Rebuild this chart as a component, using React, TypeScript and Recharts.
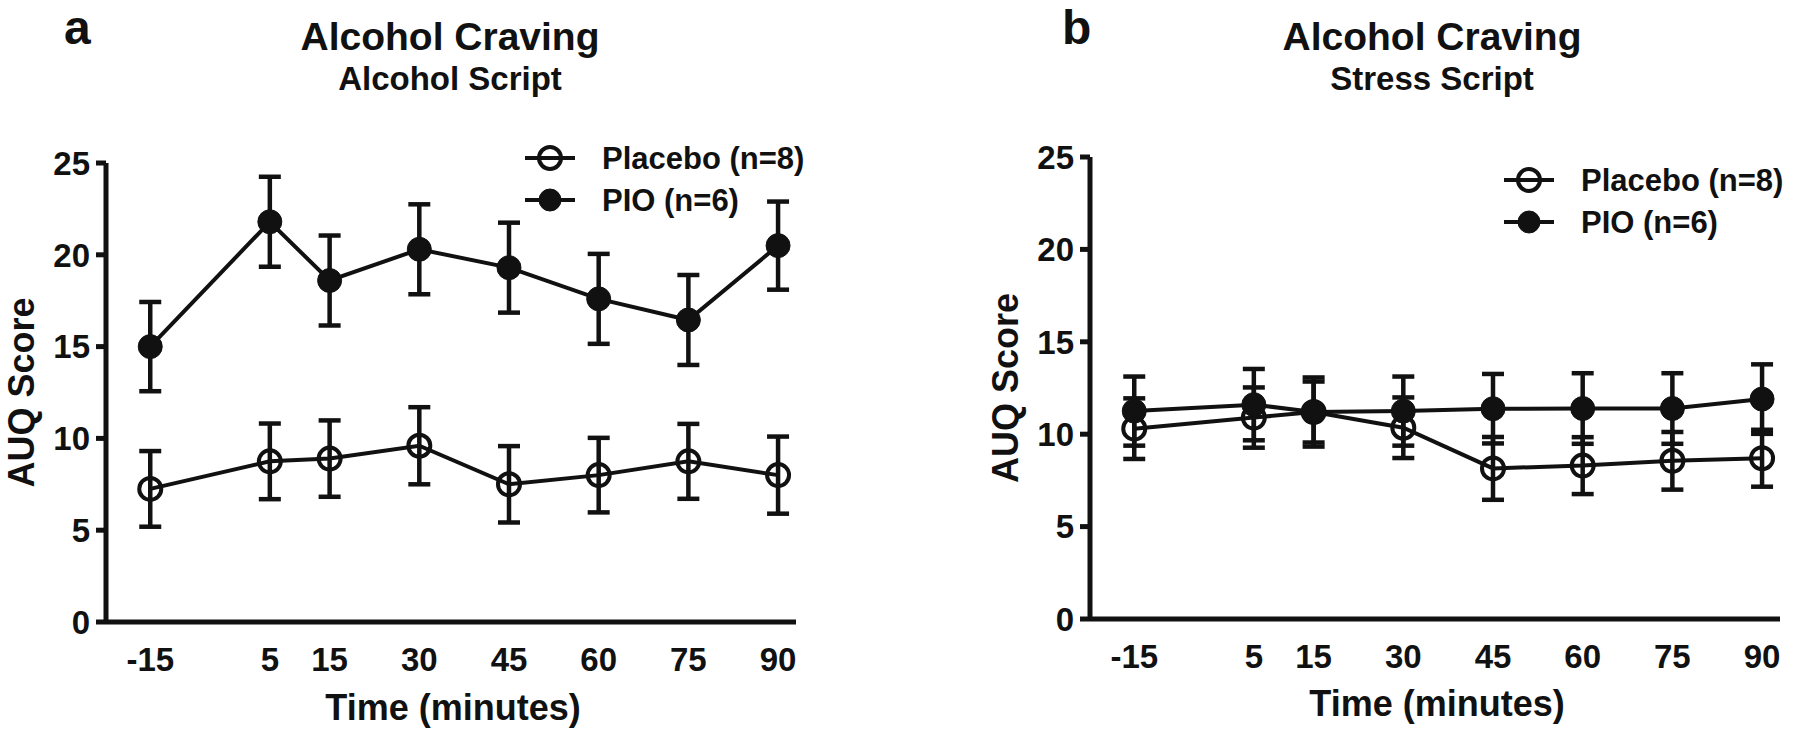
import React from "react";
import { ErrorBar, Label, Line, LineChart, XAxis, YAxis } from "recharts";

// time points (minutes) and axis ticks
const timePoints = [-15, 5, 15, 30, 45, 60, 75, 90];
const yTicks = [0, 5, 10, 15, 20, 25];
const seriesNames = ["Placebo (n=8)", "PIO (n=6)"];

// panel a – alcohol script
const alcPlacebo = [7.25, 8.75, 8.9, 9.6, 7.5, 8.0, 8.75, 8.0];
const alcPlaceboErr = [2.06, 2.06, 2.08, 2.1, 2.08, 2.03, 2.04, 2.1];
const alcPio = [15.0, 21.8, 18.6, 20.3, 19.3, 17.6, 16.45, 20.5];
const alcPioErr = [2.43, 2.45, 2.45, 2.45, 2.45, 2.45, 2.45, 2.4];

// panel b – stress script
const strPlacebo = [10.3, 10.9, 11.2, 10.35, 8.15, 8.3, 8.56, 8.7];
const strPlaceboErr = [1.64, 1.63, 1.65, 1.64, 1.7, 1.54, 1.56, 1.54];
const strPio = [11.25, 11.6, 11.2, 11.25, 11.38, 11.39, 11.39, 11.9];
const strPioErr = [1.87, 1.93, 1.87, 1.87, 1.88, 1.91, 1.91, 1.88];

const INK = "#111";
const FONT = "'Liberation Sans', Arial, Helvetica, sans-serif";

const buildRows = (placebo: number[], placeboErr: number[], pio: number[], pioErr: number[]) =>
  timePoints.map((t, i) => ({
    t,
    placebo: placebo[i],
    placeboErr: placeboErr[i],
    pio: pio[i],
    pioErr: pioErr[i],
  }));

type PanelProps = {
  rows: ReturnType<typeof buildRows>;
  left: number;
  width: number;
  top: number;
  bottom: number;
  right: number;
  xLabelY: number;
  yLabelX: number;
};

function Panel({ rows, left, width, top, bottom, right, xLabelY, yLabelX }: PanelProps) {
  const tickStyle = { fontSize: 33, fontWeight: 700, fill: INK, fontFamily: FONT };
  return (
    <div style={{ position: "absolute", left, top: 0 }}>
      <LineChart
        width={width}
        height={736}
        data={rows}
        margin={{ top, right, bottom, left: 0 }}
      >
        <XAxis
          type="number"
          dataKey="t"
          domain={[-22.4, 93]}
          ticks={timePoints}
          allowDataOverflow
          height={80}
          tickLine={false}
          tickSize={0}
          tickMargin={26}
          axisLine={{ stroke: INK, strokeWidth: 5 }}
          tick={tickStyle}
        >
          <Label
            content={({ viewBox }: any) => (
              <text
                x={viewBox.x + viewBox.width / 2 + 2}
                y={xLabelY}
                textAnchor="middle"
                fontSize={36}
                fontWeight={700}
                fill={INK}
                fontFamily={FONT}
              >
                Time (minutes)
              </text>
            )}
          />
        </XAxis>
        <YAxis
          domain={[0, 25]}
          ticks={yTicks}
          width={106}
          tickSize={10}
          tickMargin={6}
          axisLine={{ stroke: INK, strokeWidth: 5 }}
          tickLine={{ stroke: INK, strokeWidth: 5 }}
          tick={tickStyle}
        >
          <Label
            content={({ viewBox }: any) => {
              const cy = viewBox.y + viewBox.height / 2;
              return (
                <text
                  x={yLabelX}
                  y={cy}
                  transform={`rotate(-90, ${yLabelX}, ${cy})`}
                  textAnchor="middle"
                  fontSize={36}
                  fontWeight={700}
                  fill={INK}
                  fontFamily={FONT}
                >
                  AUQ Score
                </text>
              );
            }}
          />
        </YAxis>
        <Line
          dataKey="placebo"
          stroke={INK}
          strokeWidth={4}
          dot={{ r: 11, fill: "none", stroke: INK, strokeWidth: 4 }}
          isAnimationActive={false}
        >
          <ErrorBar dataKey="placeboErr" direction="y" width={11} stroke={INK} strokeWidth={4.5} isAnimationActive={false} />
        </Line>
        <Line
          dataKey="pio"
          stroke={INK}
          strokeWidth={4}
          dot={{ r: 12, fill: INK, stroke: INK, strokeWidth: 1 }}
          isAnimationActive={false}
        >
          <ErrorBar dataKey="pioErr" direction="y" width={11} stroke={INK} strokeWidth={4.5} isAnimationActive={false} />
        </Line>
      </LineChart>
    </div>
  );
}

function LegendBlock({ x, y, gap, fontSize }: { x: number; y: number; gap: number; fontSize: number }) {
  return (
    <g>
      {seriesNames.map((name, i) => {
        const cy = y + i * gap;
        return (
          <g key={name}>
            <line x1={x - 25} x2={x + 25} y1={cy} y2={cy} stroke={INK} strokeWidth={4} />
            <circle cx={x} cy={cy} r={11} fill={i === 0 ? "none" : INK} stroke={INK} strokeWidth={i === 0 ? 4 : 1} />
            <text x={x + 52} y={cy + fontSize * 0.36} fontSize={fontSize} fontWeight={700} fill={INK} fontFamily={FONT}>
              {name}
            </text>
          </g>
        );
      })}
    </g>
  );
}

export default function App() {
  const rowsA = buildRows(alcPlacebo, alcPlaceboErr, alcPio, alcPioErr);
  const rowsB = buildRows(strPlacebo, strPlaceboErr, strPio, strPioErr);
  return (
    <div style={{ position: "absolute", left: 0, top: 0, width: 1800, height: 736, background: "#fff", overflow: "hidden" }}>
      <Panel rows={rowsA} left={0} width={900} top={163} bottom={34} right={104} xLabelY={720} yLabelX={34} />
      <Panel rows={rowsB} left={984} width={816} top={157} bottom={37} right={20} xLabelY={716} yLabelX={34} />
      <svg width={1800} height={736} style={{ position: "absolute", left: 0, top: 0, pointerEvents: "none" }}>
        <g fontFamily={FONT} fontWeight={700} fill={INK}>
          <text x={64} y={44} fontSize={48}>a</text>
          <text x={450} y={50} fontSize={39} textAnchor="middle">Alcohol Craving</text>
          <text x={450} y={90} fontSize={33} textAnchor="middle">Alcohol Script</text>
          <text x={1062} y={44} fontSize={48}>b</text>
          <text x={1432} y={50} fontSize={39} textAnchor="middle">Alcohol Craving</text>
          <text x={1432} y={90} fontSize={33} textAnchor="middle">Stress Script</text>
        </g>
        <LegendBlock x={550} y={158} gap={42} fontSize={31} />
        <LegendBlock x={1529} y={180} gap={42} fontSize={31} />
      </svg>
    </div>
  );
}
